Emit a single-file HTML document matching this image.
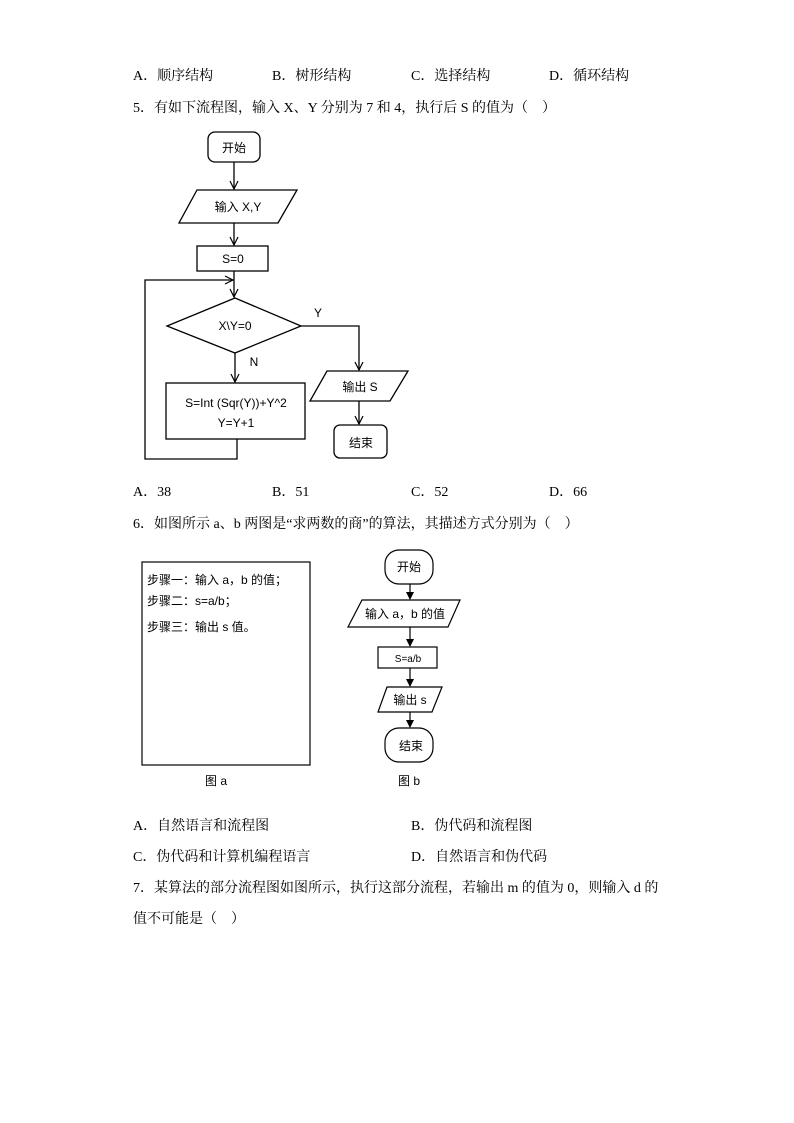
<!DOCTYPE html>
<html><head><meta charset="utf-8"><style>
body{margin:0;background:#fff;width:794px;height:1123px;position:relative;overflow:hidden;font-family:"Liberation Serif","Noto Serif CJK SC","Noto Sans CJK SC",serif;font-size:14px;color:#000}
.t{position:absolute;white-space:nowrap;line-height:16px}
svg{position:absolute;left:0;top:0}
</style></head><body>
<div class="t" style="left:133px;top:69px">A．顺序结构</div>
<div class="t" style="left:272px;top:69px">B．树形结构</div>
<div class="t" style="left:411px;top:69px">C．选择结构</div>
<div class="t" style="left:549px;top:69px">D．循环结构</div>
<div class="t" style="left:133px;top:101px">5．有如下流程图，输入 X、Y 分别为 7 和 4，执行后 S 的值为（　）</div>
<div class="t" style="left:133px;top:485px">A．38</div>
<div class="t" style="left:272px;top:485px">B．51</div>
<div class="t" style="left:411px;top:485px">C．52</div>
<div class="t" style="left:549px;top:485px">D．66</div>
<div class="t" style="left:133px;top:517px">6．如图所示 a、b 两图是“求两数的商”的算法，其描述方式分别为（　）</div>
<div class="t" style="left:133px;top:819px">A．自然语言和流程图</div>
<div class="t" style="left:411px;top:819px">B．伪代码和流程图</div>
<div class="t" style="left:133px;top:850px">C．伪代码和计算机编程语言</div>
<div class="t" style="left:411px;top:850px">D．自然语言和伪代码</div>
<div class="t" style="left:133px;top:881px">7．某算法的部分流程图如图所示，执行这部分流程，若输出 m 的值为 0，则输入 d 的</div>
<div class="t" style="left:133px;top:912px">值不可能是（　）</div>
<svg width="794" height="1123" font-family="Liberation Sans,Noto Sans CJK SC,sans-serif" font-size="12">
<defs><marker id="a" markerWidth="10" markerHeight="10" refX="9" refY="5" orient="auto" markerUnits="userSpaceOnUse"><path d="M1,1 L9,5 L1,9" fill="none" stroke="#000" stroke-width="1.2"/></marker>
<marker id="b" markerWidth="8" markerHeight="8" refX="7" refY="4" orient="auto" markerUnits="userSpaceOnUse"><path d="M0,0 L8,4 L0,8z" fill="#000"/></marker></defs>
<g fill="none" stroke="#000" stroke-width="1.3">
<rect x="208" y="132" width="52" height="30" rx="7"/>
<line x1="234" y1="162" x2="234" y2="189" marker-end="url(#a)"/>
<polygon points="197,190 297,190 278,223 179,223"/>
<line x1="234" y1="223" x2="234" y2="245" marker-end="url(#a)"/>
<rect x="197" y="246" width="71" height="25"/>
<line x1="234" y1="271" x2="234" y2="297" marker-end="url(#a)"/>
<polyline points="237,439 237,459 145,459 145,280 233,280" marker-end="url(#a)"/>
<polygon points="235,298 301,326 235,353 167,326"/>
<polyline points="301,326 359,326 359,370" marker-end="url(#a)"/>
<line x1="235" y1="353" x2="235" y2="382" marker-end="url(#a)"/>
<rect x="166" y="383" width="139" height="56"/>
<polygon points="327,371 408,371 390,401 310,401"/>
<line x1="359" y1="401" x2="359" y2="424" marker-end="url(#a)"/>
<rect x="334" y="425" width="53" height="33" rx="6"/>
</g>
<g fill="#000" text-anchor="middle">
<text x="234" y="152">开始</text>
<text x="238" y="211">输入 X,Y</text>
<text x="233" y="263">S=0</text>
<text x="235" y="330">X\Y=0</text>
<text x="318" y="317">Y</text>
<text x="254" y="366">N</text>
<text x="236" y="407">S=Int (Sqr(Y))+Y^2</text>
<text x="236" y="427">Y=Y+1</text>
<text x="360" y="391">输出 S</text>
<text x="361" y="447">结束</text>
</g>
<g fill="none" stroke="#000" stroke-width="1.2">
<rect x="142" y="562" width="168" height="203"/>
<rect x="385" y="550" width="48" height="34" rx="14"/>
<line x1="410" y1="584" x2="410" y2="599" marker-end="url(#b)"/>
<polygon points="362,600 460,600 448,627 348,627"/>
<line x1="410" y1="627" x2="410" y2="646" marker-end="url(#b)"/>
<rect x="378" y="647" width="59" height="21"/>
<line x1="410" y1="668" x2="410" y2="686" marker-end="url(#b)"/>
<polygon points="387,687 442,687 432,712 378,712"/>
<line x1="410" y1="712" x2="410" y2="727" marker-end="url(#b)"/>
<rect x="385" y="728" width="48" height="34" rx="14"/>
</g>
<g fill="#000" font-size="12">
<text x="147" y="584">步骤一：输入 a，b 的值；</text>
<text x="147" y="605">步骤二：s=a/b；</text>
<text x="147" y="631">步骤三：输出 s 值。</text>
<g text-anchor="middle">
<text x="409" y="571">开始</text>
<text x="405" y="618">输入 a，b 的值</text>
<text x="408" y="662" font-size="10">S=a/b</text>
<text x="410" y="704">输出 s</text>
<text x="411" y="750">结束</text>
<text x="216" y="785">图 a</text>
<text x="409" y="785">图 b</text>
</g></g>
</svg>
</body></html>
